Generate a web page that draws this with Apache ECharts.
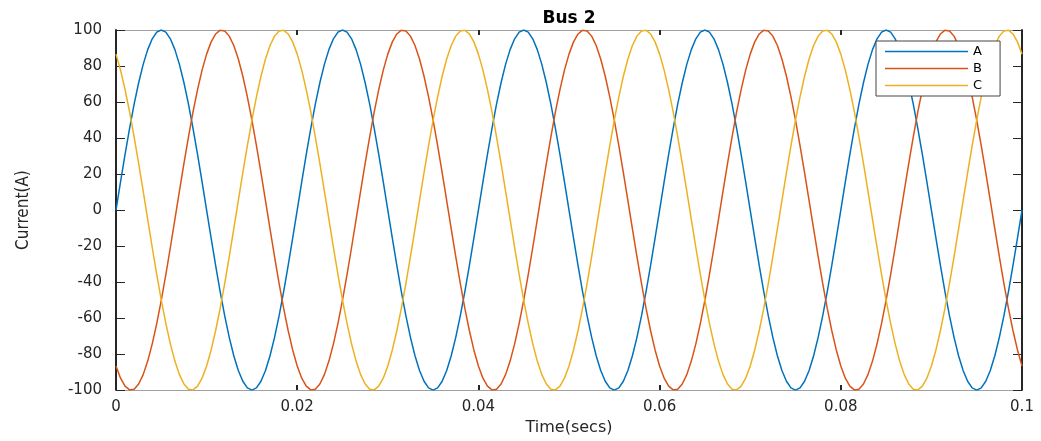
<!DOCTYPE html>
<html>
<head>
<meta charset="utf-8">
<script src="https://cdn.jsdelivr.net/npm/echarts@6/dist/echarts.min.js"></script>
<style>
html,body{margin:0;padding:0;background:#fff;}
#chart{width:1041px;height:441px;}
</style>
</head>
<body>
<div id="chart"></div>
<script>
var titleText = 'Bus 2';
var xName = 'Time(secs)';
var yName = 'Current(A)';
var seriesNames = ['A', 'B', 'C'];
var xTicks = [0, 0.02, 0.04, 0.06, 0.08, 0.1];
var yTicks = [-100, -80, -60, -40, -20, 0, 20, 40, 60, 80, 100];

var time = [
0,0.0005,0.001,0.0015,0.002,0.0025,0.003,0.0035,0.004,0.0045,0.005,0.0055,0.006,0.0065,0.007,0.0075,0.008,0.0085,0.009,0.0095,
0.01,0.0105,0.011,0.0115,0.012,0.0125,0.013,0.0135,0.014,0.0145,0.015,0.0155,0.016,0.0165,0.017,0.0175,0.018,0.0185,0.019,0.0195,
0.02,0.0205,0.021,0.0215,0.022,0.0225,0.023,0.0235,0.024,0.0245,0.025,0.0255,0.026,0.0265,0.027,0.0275,0.028,0.0285,0.029,0.0295,
0.03,0.0305,0.031,0.0315,0.032,0.0325,0.033,0.0335,0.034,0.0345,0.035,0.0355,0.036,0.0365,0.037,0.0375,0.038,0.0385,0.039,0.0395,
0.04,0.0405,0.041,0.0415,0.042,0.0425,0.043,0.0435,0.044,0.0445,0.045,0.0455,0.046,0.0465,0.047,0.0475,0.048,0.0485,0.049,0.0495,
0.05,0.0505,0.051,0.0515,0.052,0.0525,0.053,0.0535,0.054,0.0545,0.055,0.0555,0.056,0.0565,0.057,0.0575,0.058,0.0585,0.059,0.0595,
0.06,0.0605,0.061,0.0615,0.062,0.0625,0.063,0.0635,0.064,0.0645,0.065,0.0655,0.066,0.0665,0.067,0.0675,0.068,0.0685,0.069,0.0695,
0.07,0.0705,0.071,0.0715,0.072,0.0725,0.073,0.0735,0.074,0.0745,0.075,0.0755,0.076,0.0765,0.077,0.0775,0.078,0.0785,0.079,0.0795,
0.08,0.0805,0.081,0.0815,0.082,0.0825,0.083,0.0835,0.084,0.0845,0.085,0.0855,0.086,0.0865,0.087,0.0875,0.088,0.0885,0.089,0.0895,
0.09,0.0905,0.091,0.0915,0.092,0.0925,0.093,0.0935,0.094,0.0945,0.095,0.0955,0.096,0.0965,0.097,0.0975,0.098,0.0985,0.099,0.0995,
0.1];

var phaseA = [
0,15.6,30.9,45.4,58.8,70.7,80.9,89.1,95.1,98.8,100,98.8,95.1,89.1,80.9,70.7,58.8,45.4,30.9,15.6,
0,-15.6,-30.9,-45.4,-58.8,-70.7,-80.9,-89.1,-95.1,-98.8,-100,-98.8,-95.1,-89.1,-80.9,-70.7,-58.8,-45.4,-30.9,-15.6,
0,15.6,30.9,45.4,58.8,70.7,80.9,89.1,95.1,98.8,100,98.8,95.1,89.1,80.9,70.7,58.8,45.4,30.9,15.6,
0,-15.6,-30.9,-45.4,-58.8,-70.7,-80.9,-89.1,-95.1,-98.8,-100,-98.8,-95.1,-89.1,-80.9,-70.7,-58.8,-45.4,-30.9,-15.6,
0,15.6,30.9,45.4,58.8,70.7,80.9,89.1,95.1,98.8,100,98.8,95.1,89.1,80.9,70.7,58.8,45.4,30.9,15.6,
0,-15.6,-30.9,-45.4,-58.8,-70.7,-80.9,-89.1,-95.1,-98.8,-100,-98.8,-95.1,-89.1,-80.9,-70.7,-58.8,-45.4,-30.9,-15.6,
0,15.6,30.9,45.4,58.8,70.7,80.9,89.1,95.1,98.8,100,98.8,95.1,89.1,80.9,70.7,58.8,45.4,30.9,15.6,
0,-15.6,-30.9,-45.4,-58.8,-70.7,-80.9,-89.1,-95.1,-98.8,-100,-98.8,-95.1,-89.1,-80.9,-70.7,-58.8,-45.4,-30.9,-15.6,
0,15.6,30.9,45.4,58.8,70.7,80.9,89.1,95.1,98.8,100,98.8,95.1,89.1,80.9,70.7,58.8,45.4,30.9,15.6,
0,-15.6,-30.9,-45.4,-58.8,-70.7,-80.9,-89.1,-95.1,-98.8,-100,-98.8,-95.1,-89.1,-80.9,-70.7,-58.8,-45.4,-30.9,-15.6,
0];

var phaseB = [
-86.6,-93.4,-97.8,-99.9,-99.5,-96.6,-91.4,-83.9,-74.3,-62.9,-50,-35.8,-20.8,-5.2,10.5,25.9,40.7,54.5,66.9,77.7,
86.6,93.4,97.8,99.9,99.5,96.6,91.4,83.9,74.3,62.9,50,35.8,20.8,5.2,-10.5,-25.9,-40.7,-54.5,-66.9,-77.7,
-86.6,-93.4,-97.8,-99.9,-99.5,-96.6,-91.4,-83.9,-74.3,-62.9,-50,-35.8,-20.8,-5.2,10.5,25.9,40.7,54.5,66.9,77.7,
86.6,93.4,97.8,99.9,99.5,96.6,91.4,83.9,74.3,62.9,50,35.8,20.8,5.2,-10.5,-25.9,-40.7,-54.5,-66.9,-77.7,
-86.6,-93.4,-97.8,-99.9,-99.5,-96.6,-91.4,-83.9,-74.3,-62.9,-50,-35.8,-20.8,-5.2,10.5,25.9,40.7,54.5,66.9,77.7,
86.6,93.4,97.8,99.9,99.5,96.6,91.4,83.9,74.3,62.9,50,35.8,20.8,5.2,-10.5,-25.9,-40.7,-54.5,-66.9,-77.7,
-86.6,-93.4,-97.8,-99.9,-99.5,-96.6,-91.4,-83.9,-74.3,-62.9,-50,-35.8,-20.8,-5.2,10.5,25.9,40.7,54.5,66.9,77.7,
86.6,93.4,97.8,99.9,99.5,96.6,91.4,83.9,74.3,62.9,50,35.8,20.8,5.2,-10.5,-25.9,-40.7,-54.5,-66.9,-77.7,
-86.6,-93.4,-97.8,-99.9,-99.5,-96.6,-91.4,-83.9,-74.3,-62.9,-50,-35.8,-20.8,-5.2,10.5,25.9,40.7,54.5,66.9,77.7,
86.6,93.4,97.8,99.9,99.5,96.6,91.4,83.9,74.3,62.9,50,35.8,20.8,5.2,-10.5,-25.9,-40.7,-54.5,-66.9,-77.7,
-86.6];

var phaseC = [
86.6,77.7,66.9,54.5,40.7,25.9,10.5,-5.2,-20.8,-35.8,-50,-62.9,-74.3,-83.9,-91.4,-96.6,-99.5,-99.9,-97.8,-93.4,
-86.6,-77.7,-66.9,-54.5,-40.7,-25.9,-10.5,5.2,20.8,35.8,50,62.9,74.3,83.9,91.4,96.6,99.5,99.9,97.8,93.4,
86.6,77.7,66.9,54.5,40.7,25.9,10.5,-5.2,-20.8,-35.8,-50,-62.9,-74.3,-83.9,-91.4,-96.6,-99.5,-99.9,-97.8,-93.4,
-86.6,-77.7,-66.9,-54.5,-40.7,-25.9,-10.5,5.2,20.8,35.8,50,62.9,74.3,83.9,91.4,96.6,99.5,99.9,97.8,93.4,
86.6,77.7,66.9,54.5,40.7,25.9,10.5,-5.2,-20.8,-35.8,-50,-62.9,-74.3,-83.9,-91.4,-96.6,-99.5,-99.9,-97.8,-93.4,
-86.6,-77.7,-66.9,-54.5,-40.7,-25.9,-10.5,5.2,20.8,35.8,50,62.9,74.3,83.9,91.4,96.6,99.5,99.9,97.8,93.4,
86.6,77.7,66.9,54.5,40.7,25.9,10.5,-5.2,-20.8,-35.8,-50,-62.9,-74.3,-83.9,-91.4,-96.6,-99.5,-99.9,-97.8,-93.4,
-86.6,-77.7,-66.9,-54.5,-40.7,-25.9,-10.5,5.2,20.8,35.8,50,62.9,74.3,83.9,91.4,96.6,99.5,99.9,97.8,93.4,
86.6,77.7,66.9,54.5,40.7,25.9,10.5,-5.2,-20.8,-35.8,-50,-62.9,-74.3,-83.9,-91.4,-96.6,-99.5,-99.9,-97.8,-93.4,
-86.6,-77.7,-66.9,-54.5,-40.7,-25.9,-10.5,5.2,20.8,35.8,50,62.9,74.3,83.9,91.4,96.6,99.5,99.9,97.8,93.4,
86.6];

var colors = ['#0072BD', '#D95319', '#EDB120'];

function pairs(ys) {
  return time.map(function (t, i) { return [t, ys[i]]; });
}

var labelStyle = { fontFamily: 'DejaVu Sans', fontSize: 15, color: '#262626' };

function xAxisCfg(pos, showLabel) {
  return {
    type: 'value', position: pos,
    min: xTicks[0], max: xTicks[xTicks.length - 1], interval: 0.02,
    name: pos === 'bottom' ? xName : '',
    nameLocation: 'middle', nameGap: 21,
    nameTextStyle: { fontFamily: 'DejaVu Sans', fontSize: 16, color: '#262626', verticalAlign: 'top' },
    axisLine: { show: true, onZero: false, lineStyle: { color: '#a0a0a0', width: 1 } },
    axisTick: { show: true, inside: true, length: 5, lineStyle: { color: '#262626', width: 2 } },
    axisLabel: Object.assign({ show: showLabel, margin: 10 }, labelStyle),
    splitLine: { show: false }
  };
}
function yAxisCfg(pos, showLabel) {
  return {
    type: 'value', position: pos,
    min: yTicks[0], max: yTicks[yTicks.length - 1], interval: 20,
    name: pos === 'left' ? yName : '',
    nameLocation: 'middle', nameGap: 84,
    nameTextStyle: { fontFamily: 'Liberation Sans Narrow, DejaVu Sans Condensed, Liberation Sans', fontSize: 17, color: '#262626' },
    axisLine: { show: true, onZero: false, lineStyle: { color: '#262626', width: 2 } },
    axisTick: { show: true, inside: true, length: 9, lineStyle: { color: '#262626', width: 1 } },
    axisLabel: Object.assign({ show: showLabel, margin: 14 }, labelStyle),
    splitLine: { show: false }
  };
}

var chart = echarts.init(document.getElementById('chart'), null, { renderer: 'canvas' });
chart.setOption({
  animation: false,
  backgroundColor: '#ffffff',
  color: colors,
  title: {
    text: titleText, left: 569, top: 10, textAlign: 'center', padding: 0,
    textStyle: { fontFamily: 'DejaVu Sans', fontWeight: 'bold', fontSize: 17, color: '#000' }
  },
  grid: { left: 116, right: 19, top: 30, bottom: 48, containLabel: false },
  legend: {
    orient: 'vertical', left: 876, top: 41,
    padding: [4, 18, 4, 9], itemGap: 4,
    itemWidth: 83, itemHeight: 1.5, icon: 'rect',
    backgroundColor: '#ffffff', borderColor: '#444', borderWidth: 1, borderRadius: 0,
    textStyle: { fontFamily: 'DejaVu Sans', fontSize: 13, color: '#000' },
    data: seriesNames
  },
  xAxis: [xAxisCfg('bottom', true), xAxisCfg('top', false)],
  yAxis: [yAxisCfg('left', true), yAxisCfg('right', false)],
  series: [
    { name: seriesNames[0], type: 'line', data: pairs(phaseA), showSymbol: false, lineStyle: { width: 1.5 } },
    { name: seriesNames[1], type: 'line', data: pairs(phaseB), showSymbol: false, lineStyle: { width: 1.5 } },
    { name: seriesNames[2], type: 'line', data: pairs(phaseC), showSymbol: false, lineStyle: { width: 1.5 } }
  ]
});
</script>
</body>
</html>
